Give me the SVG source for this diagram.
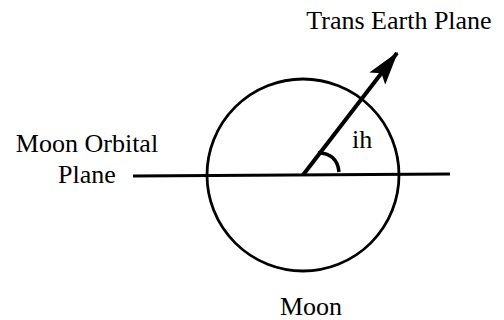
<svg xmlns="http://www.w3.org/2000/svg" width="504" height="320" viewBox="0 0 504 320">
<style>
text{font-family:"Liberation Serif","Times New Roman",serif;font-size:26px;fill:#000}
.ln{stroke:#000;fill:none;stroke-width:2.8}
</style>
<defs>
<marker id="ah" viewBox="0 0 10 10" preserveAspectRatio="none" refX="9.5" refY="5" markerWidth="8.5" markerHeight="5" markerUnits="strokeWidth" orient="auto">
<path d="M0,0 L10,5 L0,10 L2,5 Z" fill="#000"/>
</marker>
</defs>
<rect width="504" height="320" fill="#fff"/>
<g id="moon">
<circle cx="303" cy="175" r="96" class="ln"/>
<text x="311" y="315" text-anchor="middle">Moon</text>
</g>
<g id="orbital-plane">
<text x="87" y="152" text-anchor="middle">Moon Orbital</text>
<text x="87" y="183" text-anchor="middle">Plane</text>
</g>
<g id="trans-earth-plane">
<text x="399" y="29" text-anchor="middle">Trans Earth Plane</text>
</g>
<g id="angle">
<path d="M318,153 Q337,153 339,172" stroke="#000" stroke-width="3.5" fill="none"/>
<text x="352" y="148">ih</text>
</g>
<g id="connectors">
<line x1="133" y1="176" x2="450" y2="174" class="ln"/>
<line x1="303" y1="175" x2="397" y2="53" stroke="#000" stroke-width="4" marker-end="url(#ah)"/>
</g>
</svg>
